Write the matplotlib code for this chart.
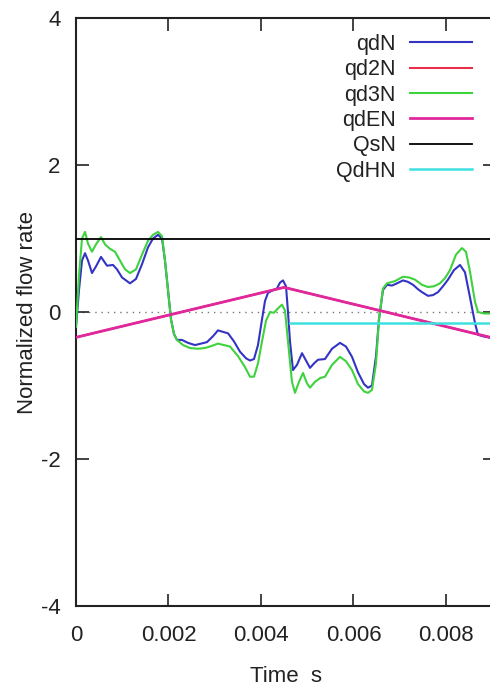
import numpy as np
import matplotlib
matplotlib.use("Agg")
import matplotlib.pyplot as plt

plt.rcParams['font.family'] = ['Liberation Sans', 'DejaVu Sans']

# ---- data (time in ms) ----
t_qdN_ms = [0.0, 0.065, 0.130, 0.195, 0.260, 0.346, 0.432, 0.541, 0.670, 0.800, 0.887, 0.995,
            1.168, 1.297, 1.427, 1.557, 1.665, 1.773, 1.860, 1.924, 1.989, 2.054, 2.119, 2.184,
            2.292, 2.422, 2.573, 2.703, 2.832, 2.962, 3.070, 3.178, 3.287, 3.416, 3.546, 3.676,
            3.762, 3.849, 3.935, 4.022, 4.087, 4.151, 4.238, 4.346, 4.411, 4.476, 4.541, 4.584,
            4.627, 4.692, 4.778, 4.887, 4.973, 5.060, 5.146, 5.232, 5.384, 5.535, 5.708, 5.838,
            5.968, 6.097, 6.227, 6.314, 6.400, 6.487, 6.551, 6.638, 6.724, 6.832, 6.941, 7.070,
            7.178, 7.287, 7.395, 7.481, 7.611, 7.719, 7.827, 7.935, 8.043, 8.173, 8.303, 8.411,
            8.519, 8.627, 8.692, 8.800, 8.951, 9.060]
qdN = [-0.20, 0.30, 0.70, 0.80, 0.70, 0.53, 0.62, 0.75, 0.63, 0.64, 0.58, 0.47,
       0.39, 0.45, 0.65, 0.88, 1.00, 1.05, 1.00, 0.70, 0.30, -0.10, -0.30, -0.38,
       -0.38, -0.42, -0.45, -0.43, -0.41, -0.33, -0.25, -0.27, -0.29, -0.40, -0.54, -0.63,
       -0.66, -0.64, -0.45, -0.10, 0.15, 0.26, 0.29, 0.32, 0.40, 0.43, 0.35, 0.00,
       -0.40, -0.79, -0.72, -0.56, -0.66, -0.76, -0.70, -0.65, -0.64, -0.50, -0.42, -0.47,
       -0.61, -0.82, -0.98, -1.03, -1.00, -0.60, -0.10, 0.30, 0.37, 0.36, 0.39, 0.43,
       0.41, 0.37, 0.31, 0.27, 0.22, 0.23, 0.27, 0.35, 0.44, 0.57, 0.64, 0.54,
       0.20, -0.15, -0.31, -0.33, -0.35, -0.36]

t_qd3N_ms = [0.0, 0.065, 0.130, 0.195, 0.260, 0.346, 0.432, 0.541, 0.627, 0.735, 0.843, 0.951,
             1.060, 1.168, 1.297, 1.427, 1.557, 1.665, 1.773, 1.860, 1.924, 1.989, 2.054, 2.119,
             2.184, 2.314, 2.465, 2.638, 2.789, 2.941, 3.070, 3.200, 3.330, 3.503, 3.654, 3.762,
             3.849, 3.935, 4.022, 4.108, 4.195, 4.281, 4.368, 4.454, 4.519, 4.584, 4.670, 4.735,
             4.822, 4.908, 4.995, 5.060, 5.168, 5.276, 5.384, 5.535, 5.708, 5.838, 5.968, 6.097,
             6.227, 6.314, 6.400, 6.487, 6.551, 6.638, 6.724, 6.897, 7.070, 7.200, 7.330, 7.481,
             7.611, 7.741, 7.870, 7.978, 8.087, 8.216, 8.346, 8.432, 8.519, 8.627, 8.692, 8.822,
             8.951, 9.060]
qd3N = [-0.20, 0.50, 1.00, 1.09, 0.93, 0.82, 0.92, 1.02, 0.92, 0.86, 0.82, 0.70,
        0.58, 0.53, 0.58, 0.78, 0.97, 1.05, 1.09, 1.03, 0.70, 0.30, -0.10, -0.30,
        -0.38, -0.45, -0.49, -0.50, -0.49, -0.46, -0.43, -0.45, -0.47, -0.60, -0.75, -0.88,
        -0.88, -0.70, -0.40, -0.12, 0.00, -0.01, 0.05, 0.10, 0.02, -0.40, -0.95, -1.10,
        -0.95, -0.83, -0.97, -1.03, -0.95, -0.90, -0.88, -0.72, -0.61, -0.67, -0.79, -0.98,
        -1.08, -1.10, -1.06, -0.70, -0.10, 0.32, 0.39, 0.42, 0.48, 0.47, 0.44, 0.37,
        0.34, 0.35, 0.39, 0.46, 0.57, 0.78, 0.87, 0.82, 0.55, 0.14, 0.00, -0.02,
        -0.02, -0.01]

t_qdEN_ms = [0.0, 4.5, 9.06]
qdEN = [-0.345, 0.335, -0.36]

t_qd2N_ms = [0.0, 4.5, 9.06]
qd2N = [-0.345, 0.335, -0.36]

t_QsN_ms = [0.0, 9.06]
QsN = [1.0, 1.0]

t_QdHN_ms = [4.63, 9.06]
QdHN = [-0.15, -0.15]

xticks = [0, 0.002, 0.004, 0.006, 0.008]
xtick_labels = ['0', '0.002', '0.004', '0.006', '0.008']
yticks = [-4, -2, 0, 2, 4]
ytick_labels = ['-4', '-2', '0', '2', '4']

ms = 1e-3

fig = plt.figure(figsize=(4.9, 6.88), dpi=100)
W, H = 490, 688
left, right, top, bottom = 76, 495, 18, 606
ax = fig.add_axes([left / W, 1 - bottom / H, (right - left) / W, (bottom - top) / H])

ax.axhline(0, color='#777777', lw=1.0, ls=(0, (1, 3.5)), zorder=1)

ax.plot(np.array(t_qdN_ms) * ms, qdN, color='#3434c4', lw=1.5, label='qdN', zorder=3)
ax.plot(np.array(t_qd2N_ms) * ms, qd2N, color='#e8304a', lw=1.5, label='qd2N', zorder=2)
ax.plot(np.array(t_qd3N_ms) * ms, qd3N, color='#3ed23e', lw=1.5, label='qd3N', zorder=3)
ax.plot(np.array(t_qdEN_ms) * ms, qdEN, color='#e0289c', lw=2.0, label='qdEN', zorder=4)
ax.plot(np.array(t_QsN_ms) * ms, QsN, color='black', lw=1.3, label='QsN', zorder=4)
ax.plot(np.array(t_QdHN_ms) * ms, QdHN, color='#3ee0e0', lw=1.8, label='QdHN', zorder=4)

ax.set_xlim(0, 0.00906)
ax.set_ylim(-4, 4)
ax.set_xticks(xticks)
ax.set_xticklabels(xtick_labels)
ax.set_yticks(yticks)
ax.set_yticklabels(ytick_labels)
ax.tick_params(direction='in', length=9, width=1.2, top=True, right=True,
               labelsize=16, colors='#222222')
ax.tick_params(axis='x', pad=14)
ax.tick_params(axis='y', pad=11)
for s in ax.spines.values():
    s.set_linewidth(1.5)
    s.set_color('#222222')

ax.set_xlabel('Time  s', fontsize=16, labelpad=14, color='#222222')
ax.set_ylabel('Normalized flow rate', fontsize=16, labelpad=2.5, color='#222222')

leg = ax.legend(loc='upper right', bbox_to_anchor=(472 / W, 1 - 34 / H),
                bbox_transform=fig.transFigure, frameon=False, markerfirst=False,
                fontsize=15.5, handlelength=2.9, handletextpad=0.65, labelspacing=0.2,
                borderpad=0, borderaxespad=0)
for t in leg.get_texts():
    t.set_color('#222222')

fig.savefig('out.png', dpi=100)
